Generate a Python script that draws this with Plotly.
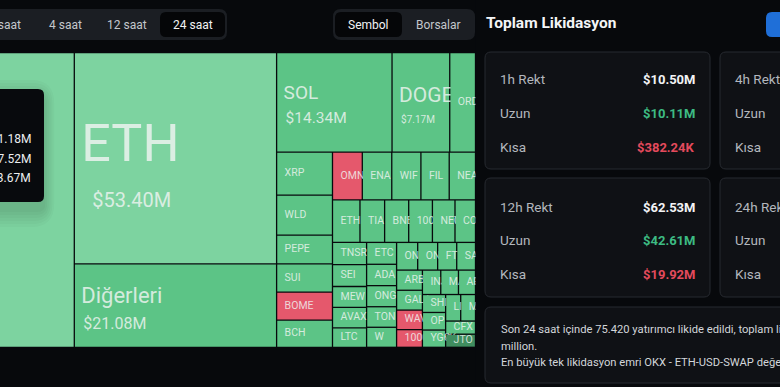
import plotly.graph_objects as go

# ---------------- data ----------------
symbols = ["BTC", "ETH", "Diğerleri", "SOL", "DOGE", "ORDI", "XRP", "WLD", "PEPE", "SUI", "BOME", "BCH",
           "OMNI", "ENA", "WIF", "FIL", "NEAR", "ETHFI", "TIA", "BNB", "1000SATS", "NEO", "CORE",
           "TNSR", "SEI", "MEW", "AVAX", "LTC", "ETC", "ADA", "ONG", "TON", "W",
           "ONDO", "ONE", "FTM", "SAGA", "ARB", "GALA", "WAVES", "1000BONK", "INJ", "MATIC", "APT",
           "SHIB", "OP", "YGG", "LINK", "MKR", "CFX", "JTO"]
liq_musd = [91.18, 53.40, 21.08, 14.34, 7.17, 3.20, 3.00, 2.80, 2.00, 1.98, 1.95, 1.90,
            1.78, 1.76, 1.74, 1.69, 1.57, 1.46, 1.31, 1.28, 1.26, 1.20, 1.09,
            0.95, 0.93, 0.89, 0.87, 0.83, 0.82, 0.80, 0.79, 0.77, 0.75,
            0.73, 0.69, 0.66, 0.65, 0.65, 0.64, 0.63, 0.57, 0.56, 0.54, 0.52,
            0.52, 0.51, 0.50, 0.50, 0.49, 0.49, 0.49]
short_dominant = {"OMNI", "BOME", "WAVES", "1000BONK"}
strong_long = {"BTC", "ETH"}
weak_long = {"JTO"}

btc_long_musd = 87.52
btc_short_musd = 3.67

time_tabs = ["1 saat", "4 saat", "12 saat", "24 saat"]
selected_tab = "24 saat"
group_tabs = ["Sembol", "Borsalar"]
selected_group = "Sembol"

periods = ["1h", "4h", "12h", "24h"]
rekt_total = {"1h": 10.50e6, "12h": 62.53e6}
rekt_long = {"1h": 10.11e6, "12h": 42.61e6}
rekt_short = {"1h": 382.24e3, "12h": 19.92e6}

summary_lines = ["Son 24 saat içinde 75.420 yatırımcı likide edildi, toplam likidasyon",
                 "million.",
                 "En büyük tek likidasyon emri OKX - ETH-USD-SWAP değerinde"]

# ---------------- styles ----------------
FONT = "Roboto"
BG = "#07090c"
C_LIGHT = "#7dd3a0"
C_MID = "#5cc486"
C_DARK = "#3f8d5f"
C_RED = "#e5586c"
TXT = "rgba(240,244,242,0.82)"
big_text = {  # symbol: (label size, value size, value indent, vertical shift)
    "BTC": (52, 20, 9, 7), "ETH": (52, 20, 9, 7), "Diğerleri": (22, 16, 0, 3.5),
    "SOL": (19, 15.5, 0, 3), "DOGE": (21, 10, 0, 3),
}
SMALL = 10.5
PHI = (1 + 5 ** 0.5) / 2


def fmt_usd(v):
    return f"${v / 1e6:.2f}M" if v >= 1e6 else f"${v / 1e3:.2f}K"


def squarify(vals, x0, y0, x1, y1, ratio=PHI):
    rects = [None] * len(vals)
    n = len(vals)
    i0 = 0
    value = float(sum(vals))
    while i0 < n:
        dx, dy = x1 - x0, y1 - y0
        i1 = i0
        s = vals[i1]
        i1 += 1
        mn = mx = s
        alpha = max(dy / dx, dx / dy) / (value * ratio)
        beta = s * s * alpha
        best = max(mx / beta, beta / mn)
        while i1 < n:
            nv = vals[i1]
            s += nv
            mn, mx = min(mn, nv), max(mx, nv)
            beta = s * s * alpha
            r = max(mx / beta, beta / mn)
            if r > best:
                s -= nv
                break
            best = r
            i1 += 1
        row = range(i0, i1)
        if dx < dy:
            yb = y0 + dy * s / value
            xx = x0
            for i in row:
                w = dx * vals[i] / s
                rects[i] = (xx, y0, xx + w, yb)
                xx += w
            y0 = yb
        else:
            xb = x0 + dx * s / value
            yy = y0
            for i in row:
                h = dy * vals[i] / s
                rects[i] = (x0, yy, xb, yy + h)
                yy += h
            x0 = xb
        value -= s
        i0 = i1
    return rects


def rrect(x0, y0, x1, y1, r):
    return (f"M{x0 + r},{y0} L{x1 - r},{y0} Q{x1},{y0} {x1},{y0 + r} L{x1},{y1 - r} Q{x1},{y1} {x1 - r},{y1} "
            f"L{x0 + r},{y1} Q{x0},{y1} {x0},{y1 - r} L{x0},{y0 + r} Q{x0},{y0} {x0 + r},{y0} Z")


fig = go.Figure()
shapes = []
annos = []


def add_text(x, y, text, size, color, anchor="left", bold=False, family=FONT):
    annos.append(dict(x=x, y=y, xref="x", yref="y", text=f"<b>{text}</b>" if bold else text,
                      showarrow=False, xanchor=anchor, yanchor="middle",
                      font=dict(size=size, color=color, family=family)))


# ---------------- treemap ----------------
TM_TOP, TM_BOT, TM_RIGHT, BTC_RIGHT = 52.6, 347.3, 475.5, 74.3
others = sum(liq_musd[1:])
width_total = (TM_RIGHT - BTC_RIGHT) * sum(liq_musd) / others
rects = squarify(liq_musd, TM_RIGHT - width_total, TM_TOP, TM_RIGHT, TM_BOT)
gap = 0.65
PAD = 9

for sym, val, (x0, y0, x1, y1) in zip(symbols, liq_musd, rects):
    if sym in short_dominant:
        col = C_RED
    elif sym in strong_long:
        col = C_LIGHT
    elif sym in weak_long:
        col = C_DARK
    else:
        col = C_MID
    fig.add_trace(go.Scatter(x=[x0 + gap, x1 - gap, x1 - gap, x0 + gap, x0 + gap],
                             y=[y0 + gap, y0 + gap, y1 - gap, y1 - gap, y0 + gap],
                             mode="lines", fill="toself", fillcolor=col, line=dict(width=0),
                             hoverinfo="skip", showlegend=False))
    mid = (y0 + y1) / 2
    if sym in big_text:
        L, V, ind, sh = big_text[sym]
        total = 1.4 * L + 1.2 * V
        top = mid - total / 2 + sh
        ly = top + 0.6 * L
        vy = top + 1.4 * L + 0.6 * V
        fig.add_trace(go.Scatter(x=[x0 + PAD - 2, x0 + PAD + ind], y=[ly, vy], mode="text",
                                 text=[sym, f"${val:.2f}M"], textposition="middle right",
                                 textfont=dict(size=[L, V], color=TXT, family=FONT),
                                 hoverinfo="skip", showlegend=False))
    else:
        fig.add_trace(go.Scatter(x=[x0 + PAD - 1], y=[mid], mode="text", text=[sym],
                                 textposition="middle right",
                                 textfont=dict(size=SMALL, color=TXT, family=FONT),
                                 hoverinfo="skip", showlegend=False))

# cover to the right of the treemap (clips overflowing labels)
fig.add_trace(go.Scatter(x=[TM_RIGHT, 800, 800, TM_RIGHT, TM_RIGHT], y=[0, 0, 400, 400, 0],
                         mode="lines", fill="toself", fillcolor=BG, line=dict(width=0),
                         hoverinfo="skip", showlegend=False))

# ---------------- tooltip over BTC ----------------
for k in range(6):
    e = 2 + 3 * k
    shapes.append(dict(type="path", path=rrect(-100, 89 - e + 8, 44 + e * 0.6, 202 + e + 8, 6 + e),
                       xref="x", yref="y", fillcolor="rgba(0,0,0,0.022)", line=dict(width=0)))
shapes.append(dict(type="path", path=rrect(-100, 89, 44, 202, 6), xref="x", yref="y",
                   fillcolor="#080a0d", line=dict(width=0)))
btc_total = liq_musd[symbols.index("BTC")]
for yy, v in zip([139, 159, 178], [btc_total, btc_long_musd, btc_short_musd]):
    add_text(33, yy, f"${v:.2f}M", 12, "#eceef0", anchor="right")

# ---------------- top controls ----------------
CTRL = "#1b1e23"
PILL = "#050608"
shapes.append(dict(type="path", path=rrect(-30, 9, 227, 40, 8), xref="x", yref="y",
                   fillcolor=CTRL, line=dict(width=0)))
shapes.append(dict(type="path", path=rrect(160, 12, 225, 37, 6), xref="x", yref="y",
                   fillcolor=PILL, line=dict(width=0)))
for t, cx in zip(time_tabs, [4, 65, 127, 192.5]):
    add_text(cx, 25, t, 12, "#f2f3f5" if t == selected_tab else "#c3c7cc", anchor="center")

shapes.append(dict(type="path", path=rrect(333, 9, 475, 40, 8), xref="x", yref="y",
                   fillcolor=CTRL, line=dict(width=0)))
shapes.append(dict(type="path", path=rrect(335, 12, 402, 37, 6), xref="x", yref="y",
                   fillcolor=PILL, line=dict(width=0)))
for t, cx in zip(group_tabs, [368.5, 438]):
    add_text(cx, 25, t, 12, "#f2f3f5" if t == selected_group else "#c3c7cc", anchor="center")

# ---------------- right panel ----------------
add_text(484, 23, "Toplam Likidasyon", 15.5, "#f4f5f7", bold=True)
shapes.append(dict(type="path", path=rrect(766, 12, 820, 37, 6), xref="x", yref="y",
                   fillcolor="#1f6fd8", line=dict(width=0)))

CARD = "#0f1115"
CARD_LINE = "#272a30"
card_pos = {"1h": (485, 52, 710, 169), "4h": (720, 52, 945, 169),
            "12h": (485, 178, 710, 297), "24h": (720, 178, 945, 297)}
for p in periods:
    x0, y0, x1, y1 = card_pos[p]
    shapes.append(dict(type="path", path=rrect(x0, y0, x1, y1, 6), xref="x", yref="y",
                       fillcolor=CARD, line=dict(width=1, color=CARD_LINE)))
    ys = [y0 + 27, y0 + 61, y0 + 95] if y0 < 100 else [y0 + 29, y0 + 62, y0 + 96]
    add_text(x0 + 13, ys[0], f"{p} Rekt", 13.5, "#b3b7bd")
    add_text(x0 + 13, ys[1], "Uzun", 13.5, "#b3b7bd")
    add_text(x0 + 13, ys[2], "Kısa", 13.5, "#b3b7bd")
    if p in rekt_total:
        add_text(x1 - 13, ys[0], fmt_usd(rekt_total[p]), 13, "#f2f3f5", anchor="right", bold=True)
        add_text(x1 - 13, ys[1], fmt_usd(rekt_long[p]), 13, "#3dbb83", anchor="right", bold=True)
        add_text(x1 - 13, ys[2], fmt_usd(rekt_short[p]), 13, "#e34a5c", anchor="right", bold=True)

shapes.append(dict(type="path", path=rrect(485, 307, 960, 383, 6), xref="x", yref="y",
                   fillcolor=CARD, line=dict(width=1, color=CARD_LINE)))
for yy, line in zip([329, 346, 362], summary_lines):
    add_text(499, yy, line, 11.2, "#d3d6da")

fig.update_layout(
    width=780, height=387, margin=dict(l=0, r=0, t=0, b=0),
    paper_bgcolor=BG, plot_bgcolor=BG, hovermode=False, showlegend=False,
    shapes=shapes, annotations=annos,
    xaxis=dict(range=[0, 780], visible=False, fixedrange=True),
    yaxis=dict(range=[387, 0], visible=False, fixedrange=True),
)
fig.write_html("out.html", config={"displayModeBar": False},
               post_script="document.body.style.margin='0px';"
                           "document.body.style.overflow='hidden';"
                           "document.body.style.background='" + BG + "';")
